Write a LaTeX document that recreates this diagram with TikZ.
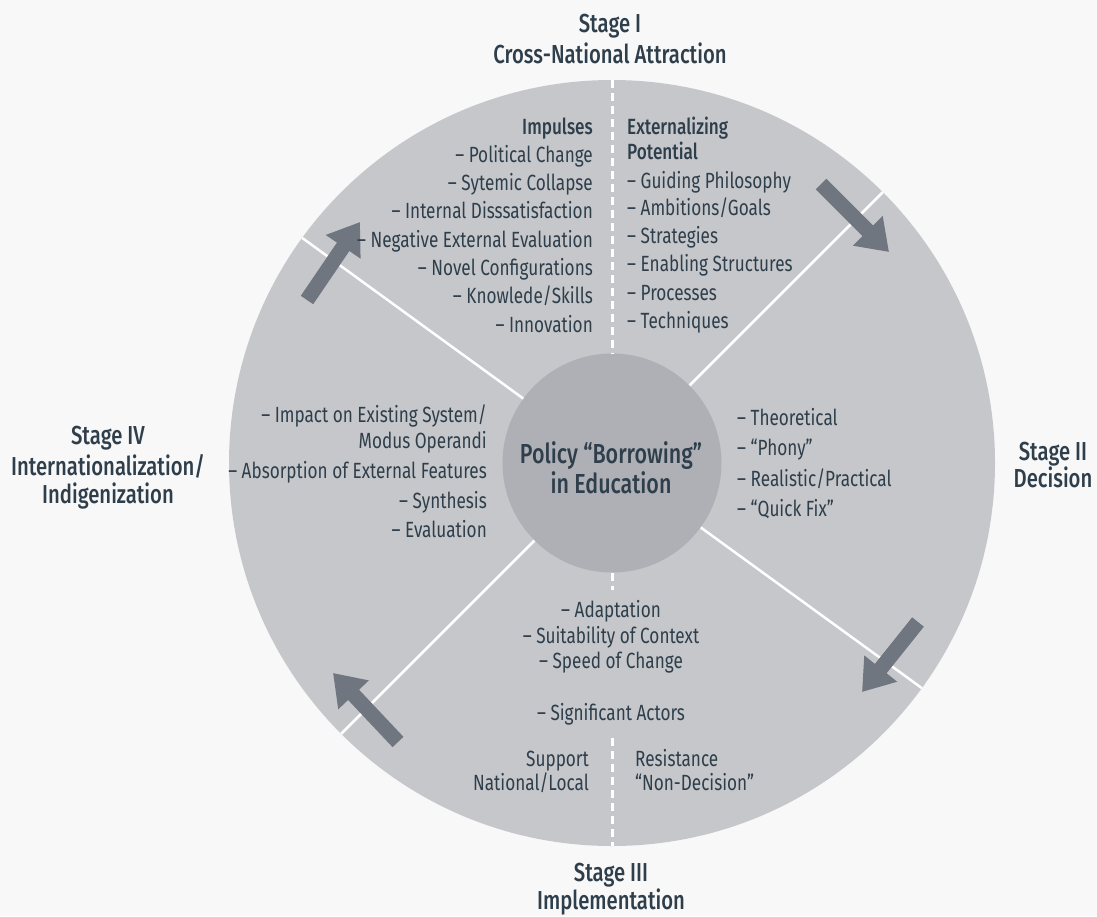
\documentclass[tikz,border=0pt]{standalone}
\usepackage{fontspec}
\setmainfont{Fira Sans}[FakeStretch=0.78,BoldFont={Fira Sans Medium}]
\usepackage{tikz}
\usetikzlibrary{arrows.meta,positioning}
\definecolor{bgcol}{RGB}{248,248,248}
\definecolor{ringcol}{RGB}{198,199,203}
\definecolor{hubcol}{RGB}{174,176,182}
\definecolor{arrowcol}{RGB}{111,118,128}
\definecolor{txtcol}{RGB}{46,62,75}

\tikzset{
  item/.style={text=txtcol,font=\fontsize{22}{25}\selectfont,inner sep=0pt},
  itemhead/.style={item,font=\fontsize{22}{25}\selectfont\bfseries},
  stagelbl/.style={text=txtcol,font=\fontsize{26}{30}\selectfont\bfseries,inner sep=0pt,anchor=base},
  bigarrow/.style={arrowcol,line width=15pt,-{Triangle[width=40pt,length=30pt]}},
  divider/.style={white,line width=2.5pt},
  midline/.style={white,line width=3pt,dash pattern=on 8pt off 5pt}
}

\begin{document}
\begin{tikzpicture}[x=1pt,y=-1pt]
\useasboundingbox (0,0) rectangle (1097,916);
\fill[bgcol] (0,0) rectangle (1097,916);
%the wheel and its four sectors
\coordinate (c) at (612,463);
\fill[ringcol] (c) circle (383pt);
\draw[divider] (c) -- ([shift={(c)}]45:383pt);
\draw[divider] (c) -- ([shift={(c)}]144:383pt);
\draw[divider] (c) -- ([shift={(c)}]225:383pt);
\draw[divider] (c) -- ([shift={(c)}]324:383pt);
%hub
\node[circle,fill=hubcol,minimum size=219pt,inner sep=0pt] (hub) at (c) {};
\node[stagelbl,font=\fontsize{27.5}{30}\selectfont\bfseries] (policy) at (611,463) {Policy “Borrowing”};
\node[stagelbl,font=\fontsize{27.5}{30}\selectfont\bfseries] (ineduc) at (611,493) {in Education};
%dashed split of stage I and stage III
\coordinate (topedge) at (612,80); \coordinate (botedge) at (612,846);
\coordinate (gaptop) at (612,590); \coordinate (gapbot) at (612,738);
\draw[midline] (topedge) -- (hub.north);
\draw[midline] (hub.south) -- (gaptop);
\draw[midline] (gapbot) -- (botedge);
%arrows between the stages
\coordinate (a1) at (821,184); \coordinate (b1) at (889,252);
\coordinate (a2) at (918,622); \coordinate (b2) at (862,692);
\coordinate (a3) at (398,742); \coordinate (b3) at (333,673);
\coordinate (a4) at (307,300); \coordinate (b4) at (360,222);
\draw[bigarrow] (a1) -- (b1);
\draw[bigarrow] (a2) -- (b2);
\draw[bigarrow] (a3) -- (b3);
\draw[bigarrow] (a4) -- (b4);
%stage labels
\node[stagelbl] (st1) at (610,32) {Stage I}; \node[stagelbl] (st1b) at (610,63) {Cross-National Attraction};
\node[stagelbl] (st2) at (1053,460) {Stage II}; \node[stagelbl] (st2b) at (1053,487) {Decision};
\node[stagelbl] (st3) at (611,881) {Stage III}; \node[stagelbl] (st3b) at (611,909) {Implementation};
\node[stagelbl] (st4) at (108,444) {Stage IV}; \node[stagelbl] (st4b) at (108,475) {Internationalization/};
\node[stagelbl] (st4c) at (108,503) {Indigenization};
%stage I, impulses
\node[itemhead,anchor=base east] (impulses) at (593,134) {Impulses};
\node[item,anchor=base east] (polch) at (593,162) {-- Political Change};
\node[item,anchor=base east] (syscol) at (593,190) {-- Sytemic Collapse};
\node[item,anchor=base east] (intdis) at (593,218) {-- Internal Disssatisfaction};
\node[item,anchor=base east] (negev) at (593,247) {-- Negative External Evaluation};
\node[item,anchor=base east] (novconf) at (593,275) {-- Novel Configurations};
\node[item,anchor=base east] (knowsk) at (593,303) {-- Knowlede/Skills};
\node[item,anchor=base east] (innov) at (593,332) {-- Innovation};
%stage I, externalizing potential
\node[itemhead,anchor=base west] (extern) at (627,134) {Externalizing};
\node[itemhead,anchor=base west] (potent) at (627,159) {Potential};
\node[item,anchor=base west] (guidph) at (627,188) {-- Guiding Philosophy};
\node[item,anchor=base west] (ambit) at (627,215) {-- Ambitions/Goals};
\node[item,anchor=base west] (strat) at (627,243) {-- Strategies};
\node[item,anchor=base west] (enabl) at (627,271) {-- Enabling Structures};
\node[item,anchor=base west] (proc) at (627,300) {-- Processes};
\node[item,anchor=base west] (techn) at (627,328) {-- Techniques};
%stage II
\node[item,anchor=base west] (theor) at (737,425) {-- Theoretical};
\node[item,anchor=base west] (phony) at (737,455) {-- “Phony”};
\node[item,anchor=base west] (realpr) at (737,486) {-- Realistic/Practical};
\node[item,anchor=base west] (qfix) at (737,516) {-- “Quick Fix”};
%stage III
\node[item,anchor=base] (adapt) at (611,617) {-- Adaptation};
\node[item,anchor=base] (suit) at (611,643) {-- Suitability of Context};
\node[item,anchor=base] (speed) at (611,668) {-- Speed of Change};
\node[item,anchor=base] (actors) at (611,720) {-- Significant Actors};
\node[item,anchor=base east] (supp) at (589,766) {Support};
\node[item,anchor=base east] (natloc) at (589,790) {National/Local};
\node[item,anchor=base west] (resist) at (635,766) {Resistance};
\node[item,anchor=base west] (nondec) at (635,790) {“Non-Decision”};
%stage IV
\node[item,anchor=base east] (impact) at (487,422) {-- Impact on Existing System/};
\node[item,anchor=base east] (modus) at (487,448) {Modus Operandi};
\node[item,anchor=base east] (absorb) at (487,478) {-- Absorption of External Features};
\node[item,anchor=base east] (synth) at (487,508) {-- Synthesis};
\node[item,anchor=base east] (evalu) at (487,537) {-- Evaluation};
\end{tikzpicture}
\end{document}
